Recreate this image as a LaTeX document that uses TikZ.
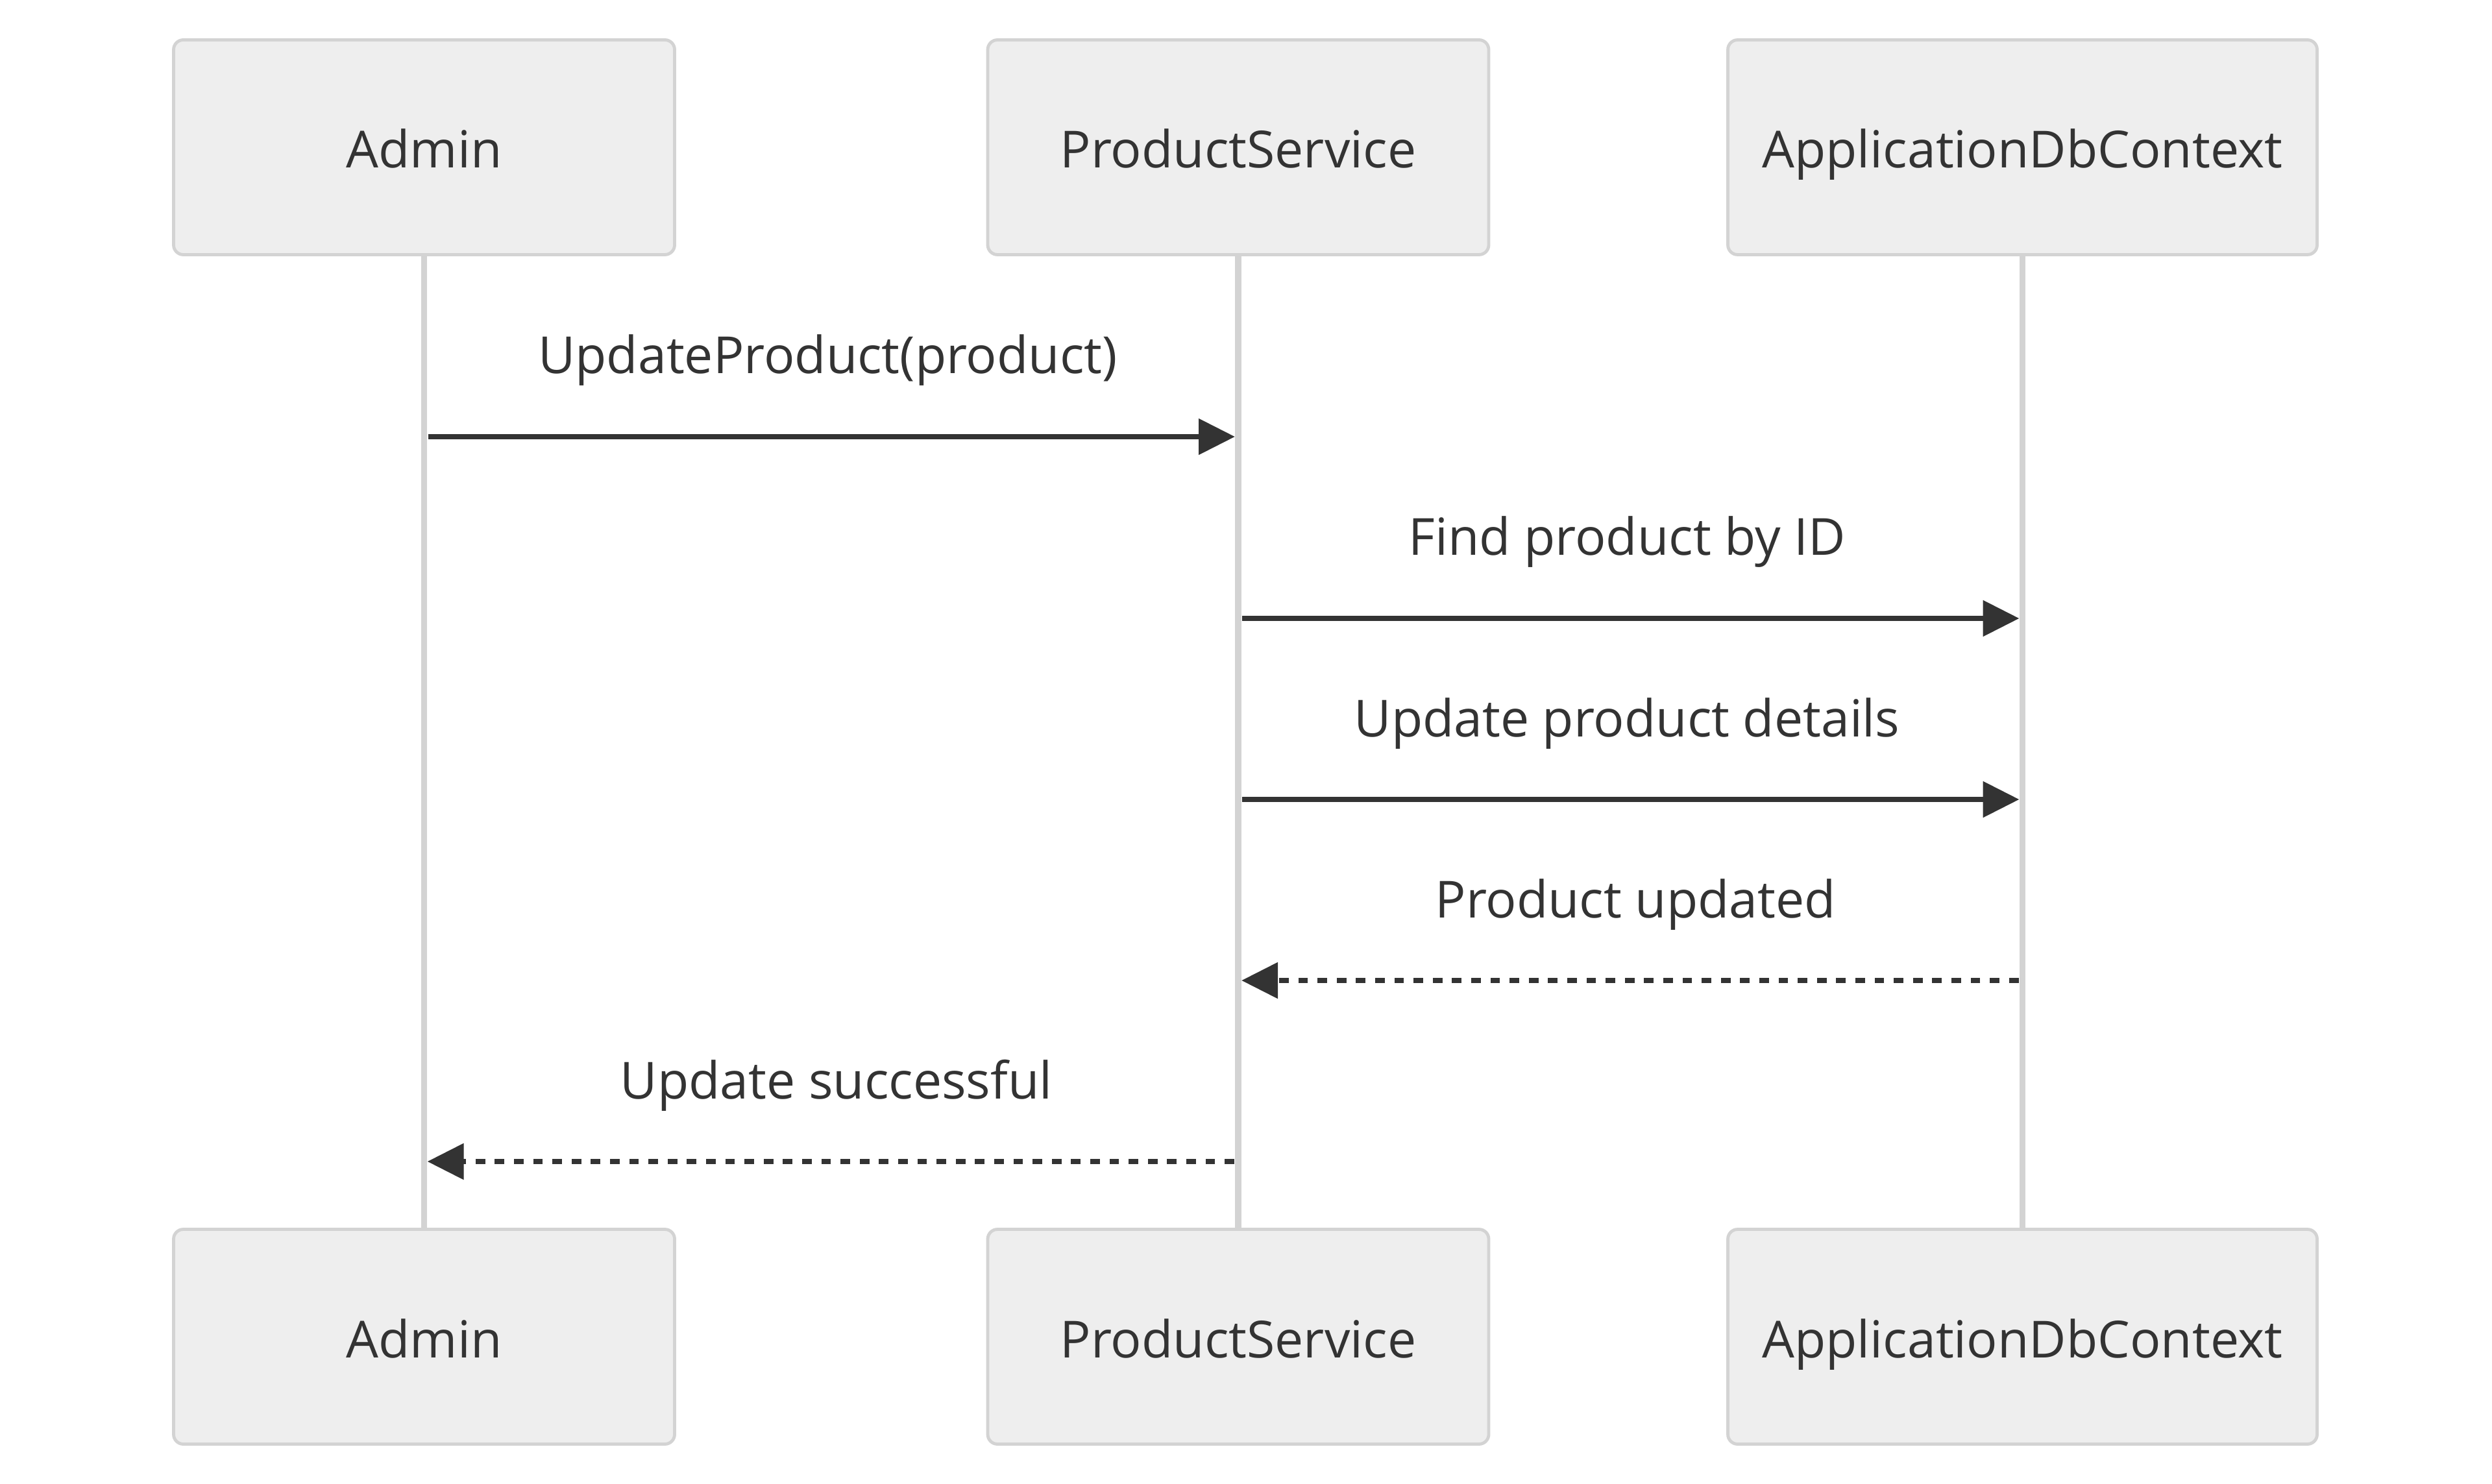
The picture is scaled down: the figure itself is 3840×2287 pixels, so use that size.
\documentclass[tikz,border=0pt]{standalone}
\usepackage{fontspec}
\setmainfont{Open Sans}
\usetikzlibrary{arrows.meta}
\definecolor{txt}{HTML}{333333}
\definecolor{boxfill}{HTML}{EEEEEE}
\definecolor{boxline}{HTML}{D3D3D3}
\begin{document}
\begin{tikzpicture}[x=0.25pt,y=-0.25pt,
  actor/.style={draw=boxline, fill=boxfill, line width=1.2pt, rounded corners=3.75pt,
    minimum height=82.75pt, text height=16pt, text depth=0pt, inner sep=0pt,
    font=\fontsize{19.7}{24}\selectfont, text=txt},
  narrowactor/.style={actor, minimum width=193pt},
  wideactor/.style={actor, minimum width=227pt},
  lifeline/.style={draw=boxline, line width=2.4pt},
  msg/.style={draw=txt, line width=2.2pt, -{Triangle[length=14pt,width=13.5pt]}, shorten <=1.5pt, shorten >=1.25pt},
  ret/.style={msg, dash pattern=on 3.7pt off 3.7pt},
  lbl/.style={anchor=base, yshift=24.25pt, inner sep=0pt, font=\fontsize{19.7}{24}\selectfont, text=txt},
]
\useasboundingbox (0,0) rectangle (3840,2287);
\node[narrowactor] (a1) at (653.5,227) {Admin};
\node[narrowactor] (p1) at (1908,227) {ProductService};
\node[wideactor] (d1) at (3116.5,227) {ApplicationDbContext};
\node[narrowactor] (a2) at (653.5,2060) {Admin};
\node[narrowactor] (p2) at (1908,2060) {ProductService};
\node[wideactor] (d2) at (3116.5,2060) {ApplicationDbContext};
\draw[lifeline] (a1.south) -- (a2.north);
\draw[lifeline] (p1.south) -- (p2.north);
\draw[lifeline] (d1.south) -- (d2.north);
\coordinate (y1) at (0,673);
\coordinate (y2) at (0,953);
\coordinate (y3) at (0,1232);
\coordinate (y4) at (0,1511);
\coordinate (y5) at (0,1790);
\draw[msg] (a1.south |- y1) -- node[lbl, xshift=-1.3pt] (l1) {UpdateProduct(product)} (p1.south |- y1);
\draw[msg] (p1.south |- y2) -- node[lbl, xshift=-1.3pt] (l2) {Find product by ID} (d1.south |- y2);
\draw[msg] (p1.south |- y3) -- node[lbl, xshift=-1.3pt] (l3) {Update product details} (d1.south |- y3);
\draw[ret] (d1.south |- y4) -- node[lbl, xshift=2pt] (l4) {Product updated} (p1.south |- y4);
\draw[ret] (p1.south |- y5) -- node[lbl, xshift=2pt] (l5) {Update successful} (a1.south |- y5);
\end{tikzpicture}
\end{document}
